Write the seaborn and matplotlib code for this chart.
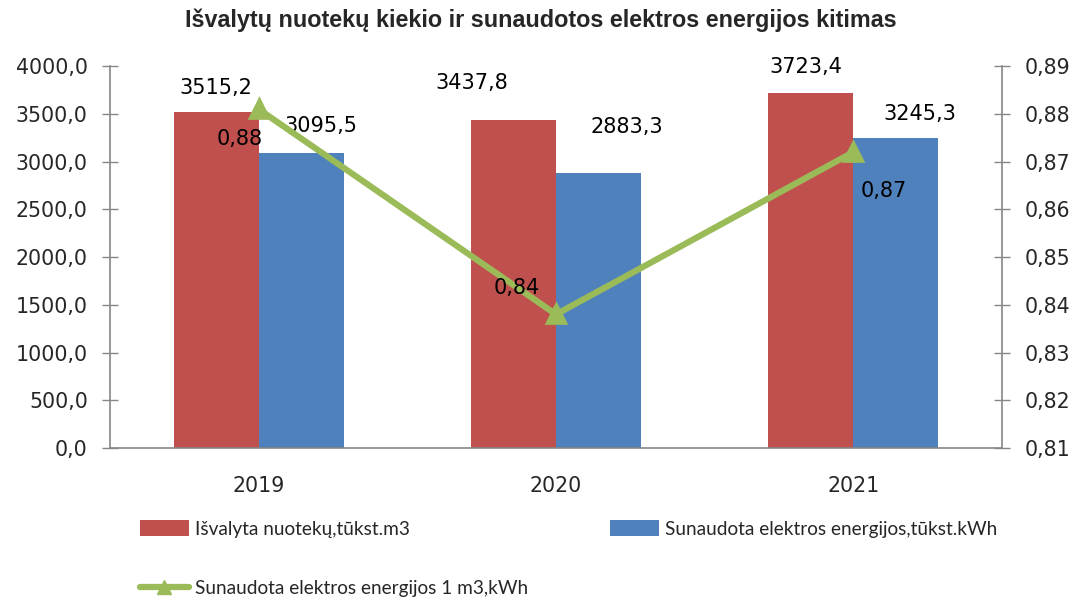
import matplotlib
matplotlib.use("Agg")
import matplotlib.pyplot as plt
import seaborn as sns
import pandas as pd
from matplotlib.ticker import FixedLocator, FuncFormatter
from matplotlib.lines import Line2D
from matplotlib.patches import Patch

years = ["2019", "2020", "2021"]
wastewater = [3515.2, 3437.8, 3723.4]
electricity = [3095.5, 2883.3, 3245.3]
per_m3 = [0.881, 0.838, 0.872]
series_names = ["Išvalyta nuotekų,tūkst.m3",
                "Sunaudota elektros energijos,tūkst.kWh",
                "Sunaudota elektros energijos 1 m3,kWh"]
title = "Išvalytų nuotekų kiekio ir sunaudotos elektros energijos kitimas"

RED, BLUE, GREEN, GRAY = "#C0504D", "#4F81BD", "#9BBB59", "#868686"

sns.set_theme(style="white")
plt.rcParams["font.family"] = ["DejaVu Sans"]

df = pd.DataFrame({
    "year": years * 2,
    "value": wastewater + electricity,
    "series": [series_names[0]] * 3 + [series_names[1]] * 3,
})

fig = plt.figure(figsize=(10.82, 6.02), dpi=100)
ax = fig.add_axes([0.1017, 0.2558, 0.8243, 0.6342])
sns.barplot(data=df, x="year", y="value", hue="series", ax=ax,
            palette=[RED, BLUE], width=0.572, saturation=1, legend=False,
            errorbar=None, linewidth=0, edgecolor="none")
ax.set_xlim(-0.5, 2.5)
ax.set_ylim(0, 4000)
ax.set_xlabel("")
ax.set_ylabel("")
fmt1 = FuncFormatter(lambda v, p: f"{v:.1f}".replace(".", ","))
ax.yaxis.set_major_locator(FixedLocator([i * 500 for i in range(9)]))
ax.yaxis.set_major_formatter(fmt1)
ax.tick_params(axis="y", direction="inout", length=12, width=1, color=GRAY,
               labelsize=14.8, pad=10)
ax.tick_params(axis="x", which="major", length=0, labelsize=14.8, pad=20)
ax.xaxis.set_minor_locator(FixedLocator([-0.5, 0.5, 1.5, 2.5]))
ax.tick_params(axis="x", which="minor", direction="out", length=6, width=1, color=GRAY)
for s in ["top", "right"]:
    ax.spines[s].set_visible(False)
for s in ["left", "bottom"]:
    ax.spines[s].set_color(GRAY)
    ax.spines[s].set_linewidth(1.2)

# bar labels
offsets_red = [(0, 24), (-42, 37), (-5, 26)]
offsets_blue = [(20, 27), (28, 46), (24, 24)]
for cont, offs in zip(ax.containers, [offsets_red, offsets_blue]):
    for bar, (dx, dy) in zip(cont, offs):
        x = bar.get_x() + bar.get_width() / 2
        h = bar.get_height()
        ax.annotate(f"{h:.1f}".replace(".", ","), (x, h), xytext=(dx, dy),
                    textcoords="offset pixels", ha="center", va="center",
                    fontsize=15, color="black")

ax2 = ax.twinx()
ax2.set_position(ax.get_position())
sns.pointplot(x=years, y=per_m3, ax=ax2, color=GREEN, markers="^",
              markersize=12, linewidth=4.5, errorbar=None)
ax2.set_ylim(0.81, 0.89)
ax2.set_xlim(-0.5, 2.5)
ax2.yaxis.set_major_locator(FixedLocator([0.81 + 0.01 * i for i in range(9)]))
ax2.yaxis.set_major_formatter(FuncFormatter(lambda v, p: f"{v:.2f}".replace(".", ",")))
ax2.tick_params(axis="y", direction="inout", length=12, width=1, color=GRAY,
                labelsize=14.8, pad=10)
for s in ["top", "left", "bottom"]:
    ax2.spines[s].set_visible(False)
ax2.spines["right"].set_color(GRAY)
ax2.spines["right"].set_linewidth(1.2)
ax2.set_ylabel("")

line_offs = [(-19, -30), (-39, 26), (30, -39)]
for i, (v, (dx, dy)) in enumerate(zip(per_m3, line_offs)):
    ax2.annotate(f"{v:.2f}".replace(".", ","), (i, v), xytext=(dx, dy),
                 textcoords="offset pixels", ha="center", va="center",
                 fontsize=15, color="black")

fig.text(0.5, 0.966, title, ha="center", va="center", fontsize=16.8,
         fontweight="bold", family=["Liberation Sans", "DejaVu Sans"])

handles = [Patch(facecolor=RED, edgecolor="none"),
           Line2D([], [], color=GREEN, lw=4.5, marker="^", markersize=10),
           Patch(facecolor=BLUE, edgecolor="none")]
labels = [series_names[0], series_names[2], series_names[1]]
fig.legend(handles, labels, ncol=2, loc="upper left", bbox_to_anchor=(0.129, 0.136),
           frameon=False, handlelength=2.6, handleheight=0.9,
           handletextpad=0.3, columnspacing=4.3, labelspacing=2.2,
           borderaxespad=0, borderpad=0,
           prop={"family": ["Lato", "DejaVu Sans"], "size": 13.7})

fig.savefig("out.png", dpi=100)
